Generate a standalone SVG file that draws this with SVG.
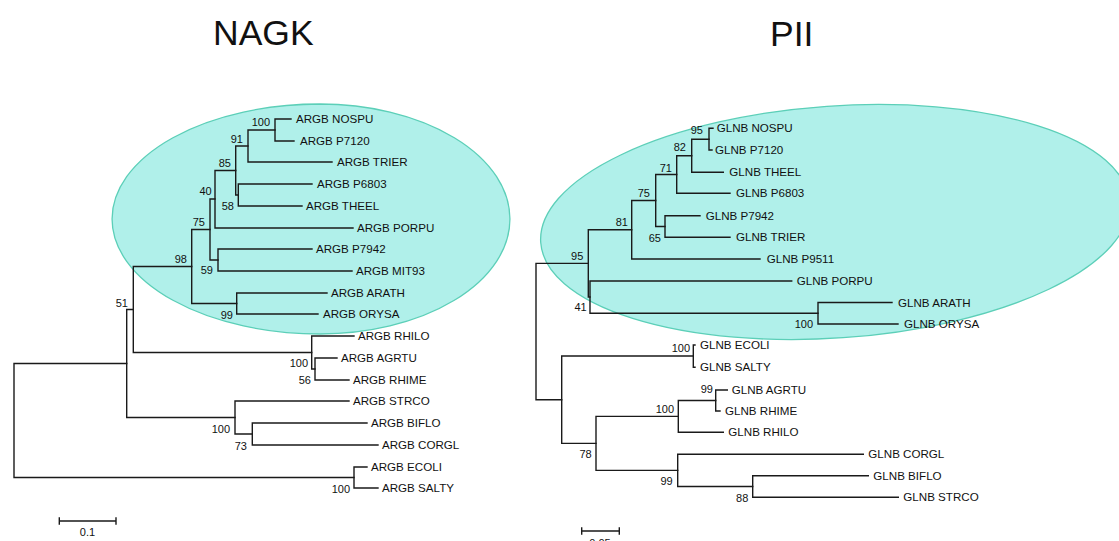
<svg xmlns="http://www.w3.org/2000/svg" width="1119" height="541" viewBox="0 0 1119 541">
<style>
.bg{fill:#ffffff}
.hl{fill:#b0f0ea;stroke:#5ccfb8;stroke-width:1.3}
.br{fill:none;stroke:#1a1a1a;stroke-width:1.4;stroke-linejoin:miter;stroke-linecap:square}
.tx{font-family:"Liberation Sans",Arial,sans-serif;font-size:11.6px;fill:#111}
.bs{font-family:"Liberation Sans",Arial,sans-serif;font-size:11px;fill:#111;text-anchor:end}
.sc{font-family:"Liberation Sans",Arial,sans-serif;font-size:11px;fill:#111;text-anchor:middle}
.ti{font-family:"Liberation Sans",Arial,sans-serif;font-size:35.5px;fill:#111}
</style>
<rect class="bg" x="0" y="0" width="1119" height="541"/>
<g id="highlights">
<path class="hl" d="M320,104 A208,115 0 0 0 320,334 A190,115 0 0 0 320,104 Z"/>
<ellipse class="hl" cx="835" cy="222" rx="295" ry="116" transform="rotate(-4 835 222)"/>
</g>
<g id="titles">
<text class="ti" x="213" y="45">NAGK</text>
<text class="ti" x="770" y="45.5">PII</text>
</g>
<g id="connectors">
<path class="br" d="M291,119 H275 V141 H294"/>
<path class="br" d="M275,130 H248 V162 H332"/>
<path class="br" d="M312,184 H238.3 V206 H302"/>
<path class="br" d="M248,146 H235.7 V195 H238.3"/>
<path class="br" d="M235.7,170.5 H215 V228 H353"/>
<path class="br" d="M312,249 H218 V271 H352"/>
<path class="br" d="M215,199 H210 V260 H218"/>
<path class="br" d="M327,293 H236.7 V314 H318"/>
<path class="br" d="M210,229.5 H191.7 V303.5 H236.7"/>
<path class="br" d="M337,358 H315 V380 H349"/>
<path class="br" d="M354,336 H311.7 V369 H315"/>
<path class="br" d="M191.7,266.5 H133.3 V352.5 H311.7"/>
<path class="br" d="M367,423 H252.3 V445 H378"/>
<path class="br" d="M349,401 H235 V434 H252.3"/>
<path class="br" d="M133.3,309.5 H126.7 V417.5 H235"/>
<path class="br" d="M367,467 H354 V488 H378"/>
<path class="br" d="M126.7,363.5 H14 V477.5 H354"/>
<path class="br" d="M713,128.3 H709 V150 H712"/>
<path class="br" d="M709,139.2 H691.7 V172.3 H723.3"/>
<path class="br" d="M691.7,155.8 H676.7 V193.3 H730"/>
<path class="br" d="M700,215.7 H665 V237.3 H730"/>
<path class="br" d="M676.7,174.5 H655.7 V226.5 H665"/>
<path class="br" d="M655.7,200.5 H631.7 V259 H760"/>
<path class="br" d="M892,302.5 H818 V324 H898"/>
<path class="br" d="M791.7,281 H590 V313.3 H818"/>
<path class="br" d="M631.7,229.8 H588.3 V297 H590"/>
<path class="br" d="M695,345 H693.3 V367.3 H695"/>
<path class="br" d="M727.3,390 H715.7 V411 H720"/>
<path class="br" d="M715.7,400.5 H678.3 V432.3 H723.3"/>
<path class="br" d="M868.3,475.7 H752.7 V497.3 H898.3"/>
<path class="br" d="M863.3,454.3 H677.7 V486.5 H752.7"/>
<path class="br" d="M678.3,416.4 H596 V470.4 H677.7"/>
<path class="br" d="M693.3,356 H561.7 V443.4 H596"/>
<path class="br" d="M588.3,263.4 H536 V399.7 H561.7"/>
</g>
<g id="nagk-leaves">
<g id="argb-nospu"><text class="tx" x="296" y="123.2">ARGB NOSPU</text></g>
<g id="argb-p7120"><text class="tx" x="300" y="145.2">ARGB P7120</text></g>
<g id="argb-trier"><text class="tx" x="337" y="166.2">ARGB TRIER</text></g>
<g id="argb-p6803"><text class="tx" x="317" y="188.2">ARGB P6803</text></g>
<g id="argb-theel"><text class="tx" x="306" y="210.2">ARGB THEEL</text></g>
<g id="argb-porpu"><text class="tx" x="357" y="232.2">ARGB PORPU</text></g>
<g id="argb-p7942"><text class="tx" x="316" y="253.2">ARGB P7942</text></g>
<g id="argb-mit93"><text class="tx" x="356" y="275.2">ARGB MIT93</text></g>
<g id="argb-arath"><text class="tx" x="331" y="297.2">ARGB ARATH</text></g>
<g id="argb-orysa"><text class="tx" x="323" y="318.2">ARGB ORYSA</text></g>
<g id="argb-rhilo"><text class="tx" x="358" y="340.2">ARGB RHILO</text></g>
<g id="argb-agrtu"><text class="tx" x="341" y="362.2">ARGB AGRTU</text></g>
<g id="argb-rhime"><text class="tx" x="353" y="384.2">ARGB RHIME</text></g>
<g id="argb-strco"><text class="tx" x="353" y="405.2">ARGB STRCO</text></g>
<g id="argb-biflo"><text class="tx" x="371" y="427.2">ARGB BIFLO</text></g>
<g id="argb-corgl"><text class="tx" x="382" y="449.2">ARGB CORGL</text></g>
<g id="argb-ecoli"><text class="tx" x="371" y="471.2">ARGB ECOLI</text></g>
<g id="argb-salty"><text class="tx" x="382" y="492.2">ARGB SALTY</text></g>
</g>
<g id="nagk-support">
<g id="n-nostoc"><text class="bs" x="270" y="126">100</text></g>
<g id="n-91"><text class="bs" x="243" y="143">91</text></g>
<g id="n-85"><text class="bs" x="231" y="167">85</text></g>
<g id="n-40"><text class="bs" x="211.7" y="195">40</text></g>
<g id="n-58"><text class="bs" x="234" y="210">58</text></g>
<g id="n-75"><text class="bs" x="205" y="226">75</text></g>
<g id="n-59"><text class="bs" x="213" y="274">59</text></g>
<g id="n-98"><text class="bs" x="187" y="263">98</text></g>
<g id="n-99"><text class="bs" x="233" y="319">99</text></g>
<g id="n-51"><text class="bs" x="128" y="307">51</text></g>
<g id="n-rhizo"><text class="bs" x="308" y="367">100</text></g>
<g id="n-56"><text class="bs" x="311" y="384">56</text></g>
<g id="n-actino"><text class="bs" x="230" y="433">100</text></g>
<g id="n-73"><text class="bs" x="247" y="450">73</text></g>
<g id="n-entero"><text class="bs" x="350" y="493">100</text></g>
</g>
<g id="pii-leaves">
<g id="glnb-nospu"><text class="tx" x="716.7" y="132.4">GLNB NOSPU</text></g>
<g id="glnb-p7120"><text class="tx" x="715" y="154.1">GLNB P7120</text></g>
<g id="glnb-theel"><text class="tx" x="729.3" y="176.4">GLNB THEEL</text></g>
<g id="glnb-p6803"><text class="tx" x="736" y="197.4">GLNB P6803</text></g>
<g id="glnb-p7942"><text class="tx" x="705.7" y="219.8">GLNB P7942</text></g>
<g id="glnb-trier"><text class="tx" x="736" y="241.4">GLNB TRIER</text></g>
<g id="glnb-p9511"><text class="tx" x="766.7" y="263.1">GLNB P9511</text></g>
<g id="glnb-porpu"><text class="tx" x="796.7" y="285.1">GLNB PORPU</text></g>
<g id="glnb-arath"><text class="tx" x="898" y="306.6">GLNB ARATH</text></g>
<g id="glnb-orysa"><text class="tx" x="904" y="328.1">GLNB ORYSA</text></g>
<g id="glnb-ecoli"><text class="tx" x="700" y="349.1">GLNB ECOLI</text></g>
<g id="glnb-salty"><text class="tx" x="700" y="371.4">GLNB SALTY</text></g>
<g id="glnb-agrtu"><text class="tx" x="731.7" y="394.1">GLNB AGRTU</text></g>
<g id="glnb-rhime"><text class="tx" x="725" y="415.1">GLNB RHIME</text></g>
<g id="glnb-rhilo"><text class="tx" x="728.3" y="436.4">GLNB RHILO</text></g>
<g id="glnb-corgl"><text class="tx" x="868.3" y="458.4">GLNB CORGL</text></g>
<g id="glnb-biflo"><text class="tx" x="873.3" y="479.8">GLNB BIFLO</text></g>
<g id="glnb-strco"><text class="tx" x="903.3" y="501.4">GLNB STRCO</text></g>
</g>
<g id="pii-support">
<g id="r-95a"><text class="bs" x="703" y="134">95</text></g>
<g id="r-82"><text class="bs" x="686" y="151">82</text></g>
<g id="r-71"><text class="bs" x="672" y="171.5">71</text></g>
<g id="r-75"><text class="bs" x="650" y="197">75</text></g>
<g id="r-65"><text class="bs" x="661" y="242">65</text></g>
<g id="r-81"><text class="bs" x="628" y="226">81</text></g>
<g id="r-95b"><text class="bs" x="583.3" y="259.5">95</text></g>
<g id="r-41"><text class="bs" x="586.7" y="311">41</text></g>
<g id="r-plant"><text class="bs" x="813" y="327.5">100</text></g>
<g id="r-entero"><text class="bs" x="690" y="351.5">100</text></g>
<g id="r-99a"><text class="bs" x="713" y="393">99</text></g>
<g id="r-rhizo"><text class="bs" x="674" y="413">100</text></g>
<g id="r-78"><text class="bs" x="591.7" y="458">78</text></g>
<g id="r-99b"><text class="bs" x="672.7" y="485">99</text></g>
<g id="r-88"><text class="bs" x="748.3" y="501.5">88</text></g>
</g>
<g id="scale-bars">
<path class="br" d="M59.3,521 H116 M59.3,518 V524 M116,518 V524"/>
<text class="sc" x="87.5" y="536">0.1</text>
<path class="br" d="M581.7,531 H619.3 M581.7,528 V534 M619.3,528 V534"/>
<text class="sc" x="600" y="546.5">0.05</text>
</g>
</svg>
